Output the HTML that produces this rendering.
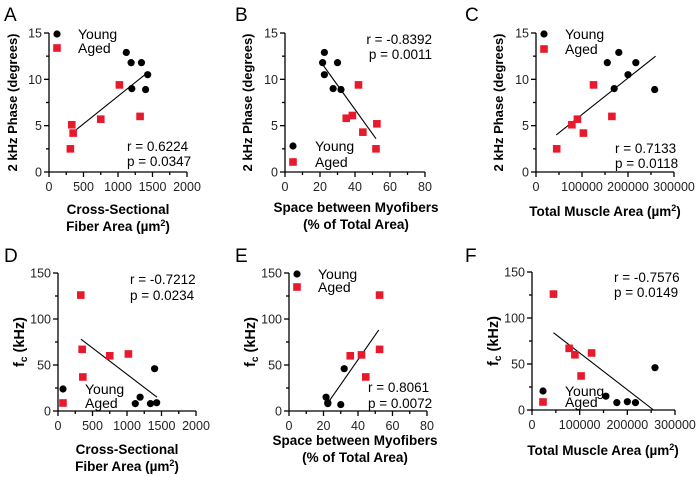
<!DOCTYPE html>
<html><head><meta charset="utf-8"><style>
body{margin:0;background:#fff}
svg{display:block;font-family:"Liberation Sans",Arial,sans-serif}
</style></head><body>
<svg id="fig" width="698" height="477" viewBox="0 0 698 477" xmlns="http://www.w3.org/2000/svg"></svg>
<script>
// ---- data ----
const A_youngX=[1120,1190,1340,1430,1200,1400];
const A_youngY=[12.9,11.8,11.8,10.5,9.0,8.9];
const A_agedX=[1020,330,350,750,1320,310];
const A_agedY=[9.4,5.1,4.2,5.7,6.0,2.5];
const A_fit=[350,4.3,1440,10.8];
const B_youngX=[22.5,21.5,30,22.5,27.5,32];
const B_youngY=[12.9,11.8,11.8,10.5,9.0,8.9];
const B_agedX=[42,35,38.5,52.5,44.5,52];
const B_agedY=[9.4,5.8,6.1,5.2,4.3,2.5];
const B_fit=[21.5,11.6,52,3.6];
const C_youngX=[155000,180000,217000,200000,170000,258000];
const C_youngY=[11.8,12.9,11.8,10.5,9.0,8.9];
const C_agedX=[125000,78000,90000,103000,165000,45000];
const C_agedY=[9.4,5.1,5.7,4.2,6.0,2.5];
const C_fit=[44000,4.0,260000,12.5];
const D_youngX=[1400,1190,1120,1340,1430];
const D_youngY=[46,15,8,8,9];
const D_agedX=[330,350,360,750,1020];
const D_agedY=[126,67,37,60,62];
const D_fit=[333,78,1435,15];
const E_youngX=[21.5,22.5,22.5,30,32];
const E_youngY=[15,9,8,7,46];
const E_agedX=[35.5,42,52.5,52.5,44.5];
const E_agedY=[60,61,126,67,37];
const E_fit=[23,10,52,88];
const F_youngX=[155000,178000,200000,217000,258000];
const F_youngY=[15,8,9,8,46];
const F_agedX=[45000,78000,90000,125000,103000];
const F_agedY=[126,67,60,62,37];
const F_fit=[45000,84,255000,0];
const xt1=[0,500,1000,1500,2000], xt2=[0,20,40,60,80], xt3=[0,100000,200000,300000];
const yt1=[0,5,10,15], yt2=[0,50,100,150];

const svg=document.getElementById('fig');
const NS='http://www.w3.org/2000/svg';
function mk(tag,attrs,parent,text){const e=document.createElementNS(NS,tag);for(const k in attrs)e.setAttribute(k,attrs[k]);if(text!==undefined)e.textContent=text;(parent||svg).appendChild(e);return e;}

function panel(p){
  const g=mk('g',{});
  
  
  const xs=v=>p.x0+(v-p.xmin)/(p.xmax-p.xmin)*(p.x1-p.x0);
  const ys=v=>p.y0-(v-p.ymin)/(p.ymax-p.ymin)*(p.y0-p.y1);
  const lt=mk('text',{x:p.lx,y:p.ly,'font-size':19,fill:'#000'},g,p.id);
  
  
  const ax=mk('g',{stroke:'#000','stroke-width':1.3},g);
  
  
  mk('line',{x1:p.x0,y1:p.y0,x2:p.x1,y2:p.y0},ax);
  mk('line',{x1:p.x0,y1:p.y0,x2:p.x0,y2:p.y1},ax);
  p.xt.forEach((v,i)=>{const x=xs(v);mk('line',{x1:x,y1:p.y0,x2:x,y2:p.y0+5},ax);
    if(i<p.xt.length-1){const xm=xs((v+p.xt[i+1])/2);mk('line',{x1:xm,y1:p.y0,x2:xm,y2:p.y0+3},ax);}
    const t=mk('text',{x:x,y:p.y0+19,'font-size':12.5,'text-anchor':'middle',fill:'#222',stroke:'none'},g,String(v));
    
    });
  p.yt.forEach((v,i)=>{const y=ys(v);mk('line',{x1:p.x0,y1:y,x2:p.x0-5,y2:y},ax);
    if(i<p.yt.length-1){const ym=ys((v+p.yt[i+1])/2);mk('line',{x1:p.x0,y1:ym,x2:p.x0-3,y2:ym},ax);}
    const t=mk('text',{x:p.x0-7,y:y+4.5,'font-size':12.5,'text-anchor':'end',fill:'#222'},g,String(v));
    
    });
  const yt=mk('text',{x:0,y:0,'font-size':p.ytfs,'font-weight':'bold','text-anchor':'middle',transform:`translate(${p.yx},${(p.y0+p.y1)/2}) rotate(-90)`},g);
  yt.innerHTML=p.ytitle;
  
  
  p.xtitle.forEach((s,i)=>{const t=mk('text',{x:p.xtx,y:p.xty+i*17,'font-size':13.5,'font-weight':'bold','text-anchor':'middle'},g);t.innerHTML=s;
    
    });
  const f=p.fit;
  const fl=mk('line',{x1:xs(f[0]),y1:ys(f[1]),x2:xs(f[2]),y2:ys(f[3]),stroke:'#000','stroke-width':1.1},g);
  
  
  p.yX.forEach((v,i)=>{const c=mk('circle',{cx:xs(v),cy:ys(p.yY[i]),r:3.6,fill:'#000'},g);
    
    });
  p.aX.forEach((v,i)=>{const r=mk('rect',{x:xs(v)-3.8,y:ys(p.aY[i])-3.8,width:7.6,height:7.6,fill:'#e8192c'},g);
    
    });
  const lg=mk('g',{},g);
  
  
  mk('circle',{cx:p.leg[0],cy:p.leg[1],r:3.6,fill:'#000'},lg);
  mk('rect',{x:p.leg[0]-3.8,y:p.leg[1]+p.leg[3]-3.8,width:7.6,height:7.6,fill:'#e8192c'},lg);
  mk('text',{x:p.leg[2],y:p.leg[1]+5,'font-size':14},lg,'Young');
  mk('text',{x:p.leg[2],y:p.leg[1]+p.leg[3]+5,'font-size':14},lg,'Aged');
  const st=mk('g',{},g);
  
  
  mk('text',{x:p.st[0],y:p.st[1],'font-size':13.5,'text-anchor':p.st[3]},st,p.r);
  mk('text',{x:p.st[0],y:p.st[1]+p.st[2],'font-size':13.5,'text-anchor':p.st[3]},st,p.p);
}
const Y1='2 kHz Phase (degrees)';
const Y2='f<tspan font-size="10" dy="3">c</tspan><tspan dy="-3"> (kHz)</tspan>';
const um='(µm<tspan font-size="9" dy="-5">2</tspan><tspan dy="5">)</tspan>';
panel({id:'A',lx:4,ly:21,x0:49,x1:187,y0:172,y1:33,xmin:0,xmax:2000,ymin:0,ymax:15,xt:xt1,yt:yt1,yx:17,ytfs:13,ytitle:Y1,xtx:118,xty:214,xtitle:['Cross-Sectional','Fiber Area  '+um],fit:A_fit,yX:A_youngX,yY:A_youngY,aX:A_agedX,aY:A_agedY,leg:[57,34,78,14],st:[127,151,15,'start'],r:'r = 0.6224',p:'p = 0.0347'});
panel({id:'B',lx:235,ly:21,x0:285,x1:425,y0:172,y1:33,xmin:0,xmax:80,ymin:0,ymax:15,xt:xt2,yt:yt1,yx:252,ytfs:13,ytitle:Y1,xtx:356,xty:212,xtitle:['Space between Myofibers','(% of Total Area)'],fit:B_fit,yX:B_youngX,yY:B_youngY,aX:B_agedX,aY:B_agedY,leg:[293,146,315,16],st:[432,44,15,'end'],r:'r = -0.8392',p:'p = 0.0011'});
panel({id:'C',lx:465,ly:21,x0:536,x1:674,y0:172,y1:33,xmin:0,xmax:300000,ymin:0,ymax:15,xt:xt3,yt:yt1,yx:503,ytfs:13,ytitle:Y1,xtx:605,xty:216,xtitle:['Total Muscle Area '+um],fit:C_fit,yX:C_youngX,yY:C_youngY,aX:C_agedX,aY:C_agedY,leg:[544,34,565,15],st:[615,153,15,'start'],r:'r = 0.7133',p:'p = 0.0118'});
panel({id:'D',lx:4,ly:262,x0:58,x1:196,y0:411,y1:273,xmin:0,xmax:2000,ymin:0,ymax:150,xt:xt1,yt:yt2,yx:24,ytfs:14.5,ytitle:Y2,xtx:127,xty:454,xtitle:['Cross-Sectional','Fiber Area  '+um],fit:D_fit,yX:D_youngX,yY:D_youngY,aX:D_agedX,aY:D_agedY,leg:[63,389,85,14],st:[130,284,16,'start'],r:'r = -0.7212',p:'p = 0.0234'});
panel({id:'E',lx:235,ly:262,x0:289,x1:427,y0:411,y1:273,xmin:0,xmax:80,ymin:0,ymax:150,xt:xt2,yt:yt2,yx:255,ytfs:14.5,ytitle:Y2,xtx:355,xty:445,xtitle:['Space between Myofibers','(% of Total Area)'],fit:E_fit,yX:E_youngX,yY:E_youngY,aX:E_agedX,aY:E_agedY,leg:[297,274,318,13],st:[368,392,16,'start'],r:'r = 0.8061',p:'p = 0.0072'});
panel({id:'F',lx:465,ly:262,x0:532,x1:675,y0:410,y1:272,xmin:0,xmax:300000,ymin:0,ymax:150,xt:xt3,yt:yt2,yx:498,ytfs:14.5,ytitle:Y2,xtx:603,xty:455,xtitle:['Total Muscle Area '+um],fit:F_fit,yX:F_youngX,yY:F_youngY,aX:F_agedX,aY:F_agedY,leg:[543,391,565,11],st:[614,282,15,'start'],r:'r = -0.7576',p:'p = 0.0149'});
</script>
</body></html>
